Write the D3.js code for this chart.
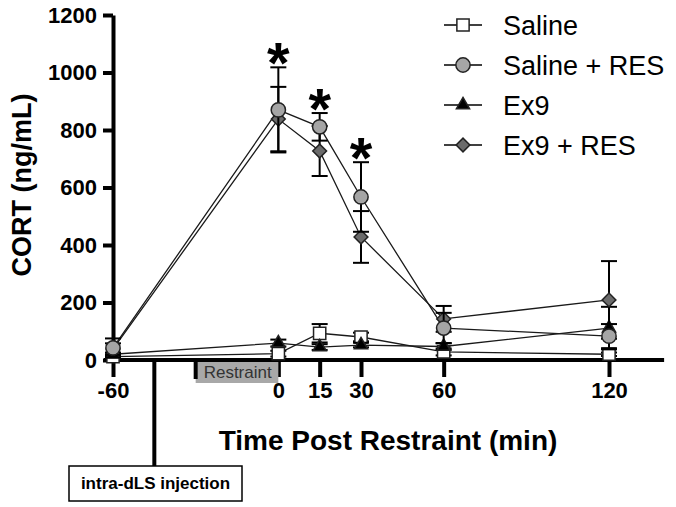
<!DOCTYPE html>
<html>
  <head>
   <meta charset="utf-8" />
   <title>CORT</title>
   <style>
     body { margin: 0; background: white; }
     text { font-family: Arial, "Liberation Sans", sans-serif; }
   </style>
  </head>
  <body>
<svg id="chart" width=676 height=507></svg>
  </body>
  <script src="https://d3js.org/d3.v7.min.js"></script>
  <script>

    // time points (min) and group means / SEM
    var times = [-60, 0, 15, 30, 60, 120];
    var saline = [12, 22, 93, 80, 28, 20];
    var salineErr = [8, 10, 32, 15, 12, 6];
    var ex9 = [20, 59, 45, 52, 47, 111];
    var ex9Err = [6, 12, 10, 8, 12, 74];
    var ex9Res = [38, 838, 727, 428, 143, 209];
    var ex9ResErr = [20, 112, 87, 90, 45, 135];
    var salineRes = [42, 870, 811, 567, 111, 83];
    var salineResErr = [33, 148, 48, 121, 53, 42];

    var groupNames = ["Saline", "Saline + RES", "Ex9", "Ex9 + RES"];
    var yTicks = [0, 200, 400, 600, 800, 1000, 1200];
    var xTicks = [-60, 0, 15, 30, 60, 120];
    var starTimes = [0, 15, 30];

    var svg = d3.select("#chart");

    var x = d3.scaleLinear().domain([-60, 120]).range([113, 609]);
    var y = d3.scaleLinear().domain([0, 1200]).range([360, 15]);

    // marker styles per group
    var styles = {
      "Saline": {shape: d3.symbolSquare, size: 150, fill: "white", rot: 0},
      "Saline + RES": {shape: d3.symbolCircle, size: 160, fill: "#a5a5a5", rot: 0},
      "Ex9": {shape: d3.symbolTriangle, size: 75, fill: "black", rot: 0},
      "Ex9 + RES": {shape: d3.symbolSquare, size: 95, fill: "#6b6b6b", rot: 45}
    };

    var groups = [
      {name: "Saline", vals: saline, err: salineErr},
      {name: "Ex9", vals: ex9, err: ex9Err},
      {name: "Ex9 + RES", vals: ex9Res, err: ex9ResErr},
      {name: "Saline + RES", vals: salineRes, err: salineResErr}
    ];

    // x axis
    var xAxis = d3.axisBottom(x).tickValues(xTicks).tickSize(17).tickPadding(5).tickSizeOuter(0)
      .tickFormat(function(d){ return String(d); });
    var gx = svg.append("g").attr("transform", "translate(0,360)").call(xAxis);
    gx.select(".domain").remove();
    gx.selectAll(".tick line").attr("stroke", "black").attr("stroke-width", 4);
    gx.selectAll(".tick text").attr("font-size", 22).attr("font-weight", "bold").attr("fill", "black")
      .style("font-family", "Arial, 'Liberation Sans', sans-serif");
    svg.append("line")
      .attr("x1", x(-63.3)).attr("x2", x(140))
      .attr("y1", y(0)).attr("y2", y(0))
      .attr("stroke", "black").attr("stroke-width", 4);

    // y axis
    var yAxis = d3.axisLeft(y).tickValues(yTicks).tickSize(10).tickPadding(6).tickSizeOuter(0)
      .tickFormat(function(d){ return String(d); });
    var gy = svg.append("g").attr("transform", "translate(113,0)").call(yAxis);
    gy.select(".domain").attr("stroke", "black").attr("stroke-width", 4);
    gy.selectAll(".tick line").attr("stroke", "black").attr("stroke-width", 4);
    gy.selectAll(".tick text").attr("font-size", 22).attr("font-weight", "bold").attr("fill", "black")
      .style("font-family", "Arial, 'Liberation Sans', sans-serif");

    // restraint bar
    svg.append("rect")
      .attr("x", x(-30)).attr("y", y(0) + 2)
      .attr("width", x(0) - x(-30)).attr("height", 21)
      .attr("fill", "#a8a8a8");
    svg.append("line")
      .attr("x1", x(-30)).attr("x2", x(-30))
      .attr("y1", y(0)).attr("y2", y(0) + 19)
      .attr("stroke", "black").attr("stroke-width", 4);
    svg.append("text")
      .attr("x", x(-30) + 8).attr("y", 378)
      .attr("font-size", 17).attr("fill", "#333")
      .text("Restraint");

    // injection marker
    svg.append("line")
      .attr("x1", x(-45)).attr("x2", x(-45))
      .attr("y1", y(0)).attr("y2", 466)
      .attr("stroke", "black").attr("stroke-width", 4);
    svg.append("rect")
      .attr("x", 69).attr("y", 466).attr("width", 173).attr("height", 35)
      .attr("fill", "white").attr("stroke", "black").attr("stroke-width", 1.5);
    svg.append("text")
      .attr("x", 155.5).attr("y", 489)
      .attr("text-anchor", "middle")
      .attr("font-size", 17).attr("font-weight", "bold")
      .text("intra-dLS injection");

    // axis titles
    svg.append("text")
      .attr("transform", "translate(31,185) rotate(-90)")
      .attr("text-anchor", "middle")
      .attr("font-size", 27).attr("font-weight", "bold")
      .text("CORT (ng/mL)");
    svg.append("text")
      .attr("x", 388).attr("y", 450)
      .attr("text-anchor", "middle")
      .attr("font-size", 28).attr("font-weight", "bold")
      .text("Time Post Restraint (min)");

    var line = d3.line()
      .x(function(d){ return x(d.t); })
      .y(function(d){ return y(d.v); });

    function symbolPath(name){
      var s = styles[name];
      return d3.symbol().type(s.shape).size(s.size)();
    }

    // lines first, then error bars and markers for each group
    groups.forEach(function(g){
      var pts = times.map(function(t, i){ return {t: t, v: g.vals[i], e: g.err[i]}; });
      svg.append("path")
        .attr("d", line(pts))
        .attr("fill", "none")
        .attr("stroke", "#1a1a1a")
        .attr("stroke-width", 1.3);
    });

    groups.forEach(function(g){
      var pts = times.map(function(t, i){ return {t: t, v: g.vals[i], e: g.err[i]}; });
      var eg = svg.append("g");
      pts.forEach(function(p){
        var cx = x(p.t);
        eg.append("line")
          .attr("x1", cx).attr("x2", cx)
          .attr("y1", y(p.v + p.e)).attr("y2", y(Math.max(0, p.v - p.e)))
          .attr("stroke", "black").attr("stroke-width", 2);
        [p.v + p.e, Math.max(0, p.v - p.e)].forEach(function(v){
          eg.append("line")
            .attr("x1", cx - 8).attr("x2", cx + 8)
            .attr("y1", y(v)).attr("y2", y(v))
            .attr("stroke", "black").attr("stroke-width", 2);
        });
      });
      var s = styles[g.name];
      svg.append("g").selectAll("path")
        .data(pts)
        .enter().append("path")
        .attr("d", symbolPath(g.name))
        .attr("transform", function(p){
          return "translate(" + x(p.t) + "," + y(p.v) + ") rotate(" + s.rot + ")";
        })
        .attr("fill", s.fill)
        .attr("stroke", "#222")
        .attr("stroke-width", 1.5);
    });

    // significance stars above Saline + RES error bars
    starTimes.forEach(function(t){
      var i = times.indexOf(t);
      svg.append("text")
        .attr("x", x(t)).attr("y", y(salineRes[i] + salineResErr[i]) + 16)
        .attr("text-anchor", "middle")
        .attr("font-size", 58).attr("font-weight", "bold")
        .text("*");
    });

    // legend
    var legend = svg.append("g");
    groupNames.forEach(function(name, i){
      var ly = 25 + i * 40;
      var s = styles[name];
      legend.append("line")
        .attr("x1", 444).attr("x2", 482)
        .attr("y1", ly).attr("y2", ly)
        .attr("stroke", "black").attr("stroke-width", 1.5);
      legend.append("path")
        .attr("d", symbolPath(name))
        .attr("transform", "translate(463," + ly + ") rotate(" + s.rot + ")")
        .attr("fill", s.fill)
        .attr("stroke", "#222")
        .attr("stroke-width", 1.5);
      legend.append("text")
        .attr("x", 503).attr("y", ly)
        .attr("dy", "0.36em")
        .attr("font-size", 27)
        .text(name);
    });

  </script>
</html>
